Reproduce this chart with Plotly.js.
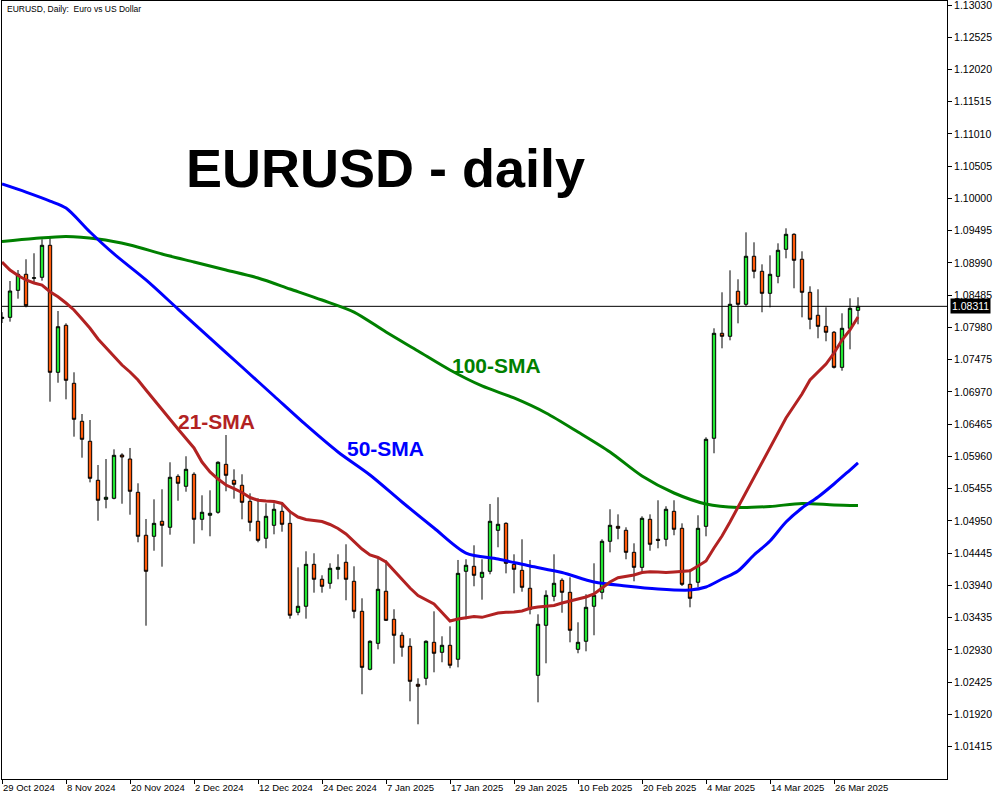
<!DOCTYPE html>
<html>
<head>
<meta charset="utf-8">
<script src="https://cdn.plot.ly/plotly-3.0.1.min.js"></script>
<style>html,body{margin:0;padding:0;background:#fff;}#chart{width:1000px;height:800px;}</style>
</head>
<body>
<div id="chart"></div>
<script>
const dates = [
'2024-10-29','2024-10-30','2024-10-31','2024-11-01','2024-11-04','2024-11-05','2024-11-06','2024-11-07','2024-11-08',
'2024-11-11','2024-11-12','2024-11-13','2024-11-14','2024-11-15','2024-11-18','2024-11-19','2024-11-20','2024-11-21','2024-11-22',
'2024-11-25','2024-11-26','2024-11-27','2024-11-28','2024-11-29','2024-12-02','2024-12-03','2024-12-04','2024-12-05','2024-12-06',
'2024-12-09','2024-12-10','2024-12-11','2024-12-12','2024-12-13','2024-12-16','2024-12-17','2024-12-18','2024-12-19','2024-12-20',
'2024-12-23','2024-12-24','2024-12-26','2024-12-27','2024-12-30','2024-12-31','2025-01-02','2025-01-03',
'2025-01-06','2025-01-07','2025-01-08','2025-01-09','2025-01-10','2025-01-13','2025-01-14','2025-01-15','2025-01-16','2025-01-17',
'2025-01-20','2025-01-21','2025-01-22','2025-01-23','2025-01-24','2025-01-27','2025-01-28','2025-01-29','2025-01-30','2025-01-31',
'2025-02-03','2025-02-04','2025-02-05','2025-02-06','2025-02-07','2025-02-10','2025-02-11','2025-02-12','2025-02-13','2025-02-14',
'2025-02-17','2025-02-18','2025-02-19','2025-02-20','2025-02-21','2025-02-24','2025-02-25','2025-02-26','2025-02-27','2025-02-28',
'2025-03-03','2025-03-04','2025-03-05','2025-03-06','2025-03-07','2025-03-10','2025-03-11','2025-03-12','2025-03-13','2025-03-14',
'2025-03-17','2025-03-18','2025-03-19','2025-03-20','2025-03-21','2025-03-24','2025-03-25','2025-03-26','2025-03-27','2025-03-28',
'2025-03-31'];

const openPx = [
1.0812,1.08139,1.08562,1.08813,1.08750,1.08766,1.09267,1.07278,1.08014,1.07106,
1.06511,1.06198,1.05587,1.05289,1.05305,1.05983,1.05920,1.05399,1.04726,1.04710,
1.04945,1.04851,1.05649,1.05493,1.05681,1.04976,1.05039,1.05086,1.05837,1.05587,
1.05509,1.05258,1.04945,1.04679,1.04882,1.05101,1.04913,1.03520,1.03614,1.04271,
1.04037,1.03974,1.04193,1.04303,1.04005,1.03535,1.02627,1.03034,1.03849,1.03410,
1.03160,1.02987,1.02392,1.02486,1.03050,1.02893,1.03003,1.02784,1.04162,1.04240,
1.04068,1.04162,1.04804,1.04913,1.04271,1.04177,1.03896,1.02533,1.03316,1.03770,
1.04021,1.03833,1.02940,1.03066,1.03614,1.03833,1.04632,1.04866,1.04804,1.04459,
1.04224,1.04976,1.04663,1.04663,1.05101,1.04835,1.03958,1.03990,1.04866,1.06245,
1.07889,1.07842,1.08547,1.08343,1.09095,1.08860,1.08515,1.08781,1.09204,1.09439,
1.09048,1.08531,1.08171,1.07998,1.07905,1.07356,1.07967,1.08249];

const highPx = [
1.0822,1.08708,1.08880,1.09048,1.09142,1.09361,1.09381,1.08238,1.08045,1.07278,
1.06625,1.06531,1.05826,1.05920,1.06072,1.06010,1.06093,1.05540,1.04981,1.05289,
1.05446,1.05869,1.05681,1.05963,1.05712,1.05352,1.05430,1.05884,1.06296,1.05759,
1.05681,1.05383,1.05305,1.05227,1.05227,1.05227,1.05117,1.04224,1.04475,1.04444,
1.04099,1.04287,1.04428,1.04585,1.04240,1.03739,1.03081,1.04365,1.04334,1.03567,
1.03207,1.03113,1.02486,1.03081,1.03535,1.03144,1.03300,1.04339,1.04350,1.04569,
1.04350,1.05216,1.05321,1.04929,1.04428,1.04663,1.04339,1.03488,1.03864,1.04428,
1.04052,1.04068,1.03363,1.03802,1.04287,1.04663,1.05133,1.05054,1.04851,1.04600,
1.05023,1.05054,1.05274,1.05180,1.05274,1.04913,1.04193,1.05039,1.06260,1.07967,
1.08531,1.08875,1.08735,1.09470,1.09314,1.08969,1.09110,1.09298,1.09533,1.09455,
1.09173,1.08625,1.08578,1.08296,1.07925,1.08202,1.08437,1.08453];

const lowPx = [
1.0805,1.08071,1.08431,1.08296,1.08672,1.08713,1.06818,1.07115,1.06855,1.06270,
1.05941,1.05555,1.04954,1.05148,1.05289,1.05220,1.05048,1.04616,1.03310,1.04484,
1.04234,1.04735,1.05267,1.05408,1.04594,1.04804,1.04710,1.05064,1.05415,1.05299,
1.04976,1.04788,1.04616,1.04522,1.04741,1.04782,1.03420,1.03473,1.03420,1.03827,
1.03827,1.03889,1.04037,1.03708,1.03426,1.02236,1.02611,1.02940,1.03383,1.02715,
1.02824,1.02126,1.01766,1.02377,1.02580,1.02737,1.02643,1.02658,1.03410,1.03927,
1.03717,1.04115,1.04538,1.04130,1.03817,1.03842,1.03488,1.02110,1.02721,1.03692,
1.03513,1.03050,1.02878,1.02909,1.03160,1.03723,1.04459,1.04663,1.04350,1.04005,
1.04162,1.04484,1.04522,1.04553,1.04726,1.03932,1.03598,1.03911,1.04710,1.06010,
1.07654,1.07779,1.08045,1.08312,1.08750,1.08218,1.08296,1.08672,1.09063,1.08594,
1.08139,1.07952,1.07811,1.07764,1.07338,1.07303,1.07638,1.08030];

const closePx = [
1.0814,1.08551,1.08813,1.08321,1.08758,1.09267,1.07278,1.07992,1.07153,1.06542,
1.06229,1.05618,1.05274,1.05321,1.05978,1.05952,1.05415,1.04710,1.04162,1.04913,
1.04882,1.05634,1.05540,1.05759,1.04976,1.05086,1.05070,1.05869,1.05665,1.05524,
1.05242,1.04929,1.04647,1.05023,1.05133,1.04898,1.03473,1.03614,1.04271,1.04037,
1.03927,1.04209,1.04224,1.04037,1.03535,1.02658,1.03066,1.03880,1.03394,1.03160,
1.02972,1.02439,1.02361,1.03066,1.02878,1.03003,1.02690,1.04130,1.04256,1.04099,
1.04146,1.04945,1.04898,1.04287,1.04193,1.03911,1.03567,1.03332,1.03786,1.03974,
1.03833,1.03238,1.03050,1.03598,1.03786,1.04632,1.04882,1.04835,1.04459,1.04224,
1.04992,1.04585,1.04647,1.05133,1.04820,1.03958,1.03739,1.04835,1.06229,1.07889,
1.07842,1.08343,1.08343,1.09095,1.08860,1.08515,1.08813,1.09189,1.09439,1.09032,
1.08531,1.08108,1.07998,1.07905,1.07356,1.07967,1.08280,1.08311];

// 21-period SMA (read per bar)
const sma21 = [
1.09005,1.08880,1.08794,1.08724,1.08677,1.08645,1.08540,1.08462,1.08363,1.08254,
1.08113,1.07967,1.07800,1.07659,1.07518,1.07392,1.07283,1.07158,1.07001,1.06844,
1.06688,1.06531,1.06390,1.06241,1.06093,1.05873,1.05717,1.05607,1.05513,1.05455,
1.05396,1.05317,1.05274,1.05263,1.05255,1.05224,1.05095,1.05012,1.04973,1.04957,
1.04942,1.04895,1.04832,1.04746,1.04628,1.04511,1.04417,1.04378,1.04307,1.04166,
1.04026,1.03900,1.03783,1.03712,1.03650,1.03517,1.03383,1.03415,1.03438,1.03454,
1.03441,1.03477,1.03509,1.03520,1.03524,1.03540,1.03582,1.03603,1.03618,1.03626,
1.03665,1.03701,1.03728,1.03759,1.03806,1.03900,1.03994,1.04062,1.04080,1.04104,
1.04143,1.04156,1.04151,1.04143,1.04151,1.04166,1.04171,1.04245,1.04323,1.04527,
1.04715,1.04934,1.05169,1.05404,1.05623,1.05873,1.06093,1.06328,1.06562,1.06750,
1.06938,1.07158,1.07283,1.07408,1.07580,1.07784,1.07941,1.08144];

// 50-period SMA (read at sampled bars)
const sma50Dates = ['2024-10-29','2024-11-01','2024-11-06','2024-11-08','2024-11-13','2024-11-18','2024-11-22','2024-11-28','2024-12-04',
'2024-12-10','2024-12-16','2024-12-20','2024-12-27','2025-01-03','2025-01-09','2025-01-15','2025-01-21','2025-01-27','2025-01-31',
'2025-02-06','2025-02-12','2025-02-18','2025-02-24','2025-02-28','2025-03-04','2025-03-06','2025-03-10','2025-03-12','2025-03-14',
'2025-03-18','2025-03-20','2025-03-24','2025-03-26','2025-03-28','2025-03-31'];
const sma50 = [1.10227,1.10100,1.09960,1.09850,1.09475,1.09131,1.08724,1.08269,1.07815,
1.07361,1.06907,1.06453,1.06030,1.05670,1.05247,1.04840,1.04448,1.04354,1.04245,
1.04143,1.03994,1.03932,1.03885,1.03869,1.03916,1.04041,1.04166,1.04417,1.04636,
1.04934,1.05153,1.05325,1.05529,1.05748,1.05858];

// 100-period SMA (read at sampled bars)
const sma100Dates = ['2024-10-29','2024-11-04','2024-11-08','2024-11-14','2024-11-20','2024-11-26','2024-12-02','2024-12-06',
'2024-12-12','2024-12-18','2024-12-24','2024-12-31','2025-01-07','2025-01-13','2025-01-17','2025-01-23','2025-01-29','2025-02-04',
'2025-02-10','2025-02-14','2025-02-20','2025-02-26','2025-03-04','2025-03-10','2025-03-14','2025-03-20','2025-03-26','2025-03-31'];
const sma100 = [1.09326,1.09373,1.09405,1.09366,1.09272,1.09131,1.09005,1.08880,
1.08755,1.08583,1.08410,1.08222,1.07909,1.07612,1.07314,1.07064,1.06876,1.06641,
1.06343,1.06030,1.05654,1.05388,1.05216,1.05161,1.05177,1.05224,1.05200,1.05192];

const tickDates = ['2024-10-29','2024-11-08','2024-11-20','2024-12-02','2024-12-12','2024-12-24','2025-01-07',
'2025-01-17','2025-01-29','2025-02-10','2025-02-20','2025-03-04','2025-03-14','2025-03-26'];
const tickLabels = ['29 Oct 2024','8 Nov 2024','20 Nov 2024','2 Dec 2024','12 Dec 2024','24 Dec 2024','7 Jan 2025',
'17 Jan 2025','29 Jan 2025','10 Feb 2025','20 Feb 2025','4 Mar 2025','14 Mar 2025','26 Mar 2025'];

const priceTicks = [1.13030,1.12525,1.12020,1.11515,1.11010,1.10505,1.10000,1.09495,1.08990,1.08485,
1.07980,1.07475,1.06970,1.06465,1.05960,1.05455,1.04950,1.04445,1.03940,1.03435,1.02930,1.02425,1.01920,1.01415];
const priceTickText = ['1.13030','1.12525','1.12020','1.11515','1.11010','1.10505','1.10000','1.09495','1.08990','1.08485',
'1.07980','1.07475','1.06970','1.06465','1.05960','1.05455','1.04950','1.04445','1.03940','1.03435','1.02930','1.02425','1.01920','1.01415'];

const lastPrice = closePx[closePx.length - 1];

const bull = '#22e632';
const bear = '#ff5a0a';
const FONT = 'Liberation Sans, Arial, sans-serif';

const traces = [
  {
    type: 'candlestick', x: dates, open: openPx, high: highPx, low: lowPx, close: closePx,
    increasing: {line: {color: '#000000', width: 1}, fillcolor: bull},
    decreasing: {line: {color: '#000000', width: 1}, fillcolor: bear},
    whiskerwidth: 0, hoverinfo: 'skip', showlegend: false
  },
  {type: 'scatter', mode: 'lines', x: sma100Dates, y: sma100, line: {color: '#008000', width: 3, shape: 'spline', smoothing: 0.8}, hoverinfo: 'skip'},
  {type: 'scatter', mode: 'lines', x: sma50Dates, y: sma50, line: {color: '#0000ff', width: 3, shape: 'spline', smoothing: 0.8}, hoverinfo: 'skip'},
  {type: 'scatter', mode: 'lines', x: dates, y: sma21, line: {color: '#b22222', width: 3}, hoverinfo: 'skip'}
];

const layout = {
  width: 1000, height: 800,
  margin: {l: 2, r: 53, t: 1, b: 21, pad: 0},
  paper_bgcolor: '#ffffff', plot_bgcolor: '#ffffff',
  showlegend: false,
  boxgap: 0.4,
  font: {family: FONT, color: '#000000'},
  xaxis: {
    type: 'category', range: [0, 118.125],
    rangeslider: {visible: false},
    showgrid: false, zeroline: false,
    showline: true, linecolor: '#000000', linewidth: 1, mirror: true,
    ticks: 'outside', ticklen: 4, tickcolor: '#000000', tickwidth: 1,
    tickmode: 'array', tickvals: tickDates, ticktext: tickLabels,
    ticklabelposition: 'outside right',
    tickfont: {family: FONT, size: 9.5, color: '#000000'},
    fixedrange: true
  },
  yaxis: {
    side: 'right', range: [1.009092, 1.130927],
    tickmode: 'array', tickvals: priceTicks, ticktext: priceTickText,
    ticklabeloverflow: 'allow',
    showgrid: false, zeroline: false,
    showline: true, linecolor: '#000000', linewidth: 1, mirror: true,
    ticks: 'outside', ticklen: 4, tickcolor: '#000000', tickwidth: 1,
    tickfont: {family: FONT, size: 10.5, color: '#000000'},
    fixedrange: true
  },
  shapes: [
    {type: 'line', xref: 'paper', x0: 0, x1: 1, yref: 'y', y0: lastPrice, y1: lastPrice,
     line: {color: '#000000', width: 1}, layer: 'below'}
  ],
  annotations: [
    {xref: 'paper', yref: 'y', x: 1, y: lastPrice, xanchor: 'left', yanchor: 'middle', xshift: 3,
     text: lastPrice.toFixed(5), showarrow: false, bgcolor: '#000000', borderpad: 1,
     font: {family: FONT, size: 10.5, color: '#ffffff'}},
    {xref: 'paper', yref: 'paper', x: 0.003, y: 0.9897, xanchor: 'left', yanchor: 'middle',
     text: 'EURUSD, Daily:  Euro vs US Dollar', showarrow: false,
     font: {family: FONT, size: 8.5, color: '#000000'}},
    {xref: 'paper', yref: 'paper', x: 0.406, y: 0.7853, xanchor: 'center', yanchor: 'middle',
     text: 'EURUSD - daily', showarrow: false,
     font: {family: FONT, size: 54, color: '#000000', weight: 'bold'}},
    {xref: 'paper', yref: 'paper', x: 0.5228, y: 0.532, xanchor: 'center', yanchor: 'middle',
     text: '100-SMA', showarrow: false,
     font: {family: FONT, size: 21, color: '#008000', weight: 'bold'}},
    {xref: 'paper', yref: 'paper', x: 0.2275, y: 0.4589, xanchor: 'center', yanchor: 'middle',
     text: '21-SMA', showarrow: false,
     font: {family: FONT, size: 21, color: '#b22222', weight: 'bold'}},
    {xref: 'paper', yref: 'paper', x: 0.4063, y: 0.4242, xanchor: 'center', yanchor: 'middle',
     text: '50-SMA', showarrow: false,
     font: {family: FONT, size: 21, color: '#0000ff', weight: 'bold'}}
  ]
};

Plotly.newPlot('chart', traces, layout, {displayModeBar: false, staticPlot: true});
</script>
</body>
</html>
